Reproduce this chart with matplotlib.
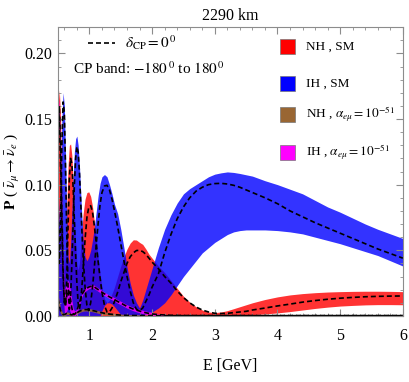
import matplotlib
matplotlib.use("Agg")
import matplotlib.pyplot as plt
from matplotlib.patches import Rectangle
from matplotlib.ticker import MultipleLocator, FormatStrFormatter

plt.rcParams["font.family"] = ["Liberation Serif", "DejaVu Serif"]
plt.rcParams["mathtext.fontset"] = "stix"

# neutrino energy grid (GeV)
energy = [0.50, 0.52, 0.54, 0.56, 0.58, 0.60, 0.62, 0.64, 0.66, 0.68, 0.70,
          0.72, 0.74, 0.76, 0.78, 0.80, 0.82, 0.84, 0.86, 0.88, 0.90,
          0.93, 0.96, 0.99, 1.02, 1.05, 1.08, 1.11, 1.14, 1.17, 1.20,
          1.24, 1.28, 1.32, 1.36, 1.40,
          1.45, 1.50, 1.55, 1.60, 1.65, 1.70, 1.75, 1.80, 1.85, 1.90, 1.95, 2.00,
          2.1, 2.2, 2.3, 2.4, 2.5, 2.6, 2.7, 2.8, 2.9, 3.0, 3.1, 3.2, 3.3, 3.4, 3.5, 3.6,
          3.8, 4.0, 4.2, 4.4, 4.6, 4.8, 5.0, 5.2, 5.4, 5.6, 5.8, 6.0]

# NH, SM band (red)
nh_sm_hi = [0.160, 0.172, 0.150, 0.100, 0.055, 0.035, 0.050, 0.085, 0.115, 0.130, 0.131,
            0.122, 0.102, 0.078, 0.055, 0.040, 0.035, 0.040, 0.052, 0.066, 0.078,
            0.089, 0.094, 0.0945, 0.091, 0.083, 0.071, 0.058, 0.044, 0.032, 0.022,
            0.013, 0.010, 0.012, 0.017, 0.022,
            0.030, 0.038, 0.045, 0.051, 0.0555, 0.058, 0.0578, 0.056, 0.0545, 0.051, 0.047, 0.044,
            0.038, 0.033, 0.027, 0.021, 0.015, 0.0105, 0.007, 0.0045, 0.003, 0.0025, 0.003, 0.004, 0.0055, 0.007, 0.0085, 0.010,
            0.0125, 0.0145, 0.016, 0.017, 0.0177, 0.0182, 0.0185, 0.0187, 0.0188, 0.0188, 0.0187, 0.0185]
nh_sm_mid = [0.150, 0.160, 0.130, 0.080, 0.035, 0.010, 0.008, 0.030, 0.070, 0.105, 0.120,
             0.116, 0.098, 0.073, 0.047, 0.025, 0.010, 0.005, 0.010, 0.022, 0.036,
             0.058, 0.075, 0.083, 0.084, 0.079, 0.068, 0.055, 0.041, 0.029, 0.018,
             0.008, 0.003, 0.003, 0.006, 0.011,
             0.018, 0.026, 0.033, 0.040, 0.045, 0.048, 0.0498, 0.050, 0.049, 0.047, 0.044, 0.041,
             0.036, 0.030, 0.025, 0.019, 0.014, 0.010, 0.0068, 0.0045, 0.003, 0.002, 0.0018, 0.002, 0.0025, 0.003, 0.0035, 0.0045,
             0.006, 0.0076, 0.009, 0.0105, 0.0117, 0.0127, 0.0135, 0.0141, 0.0146, 0.0149, 0.0151, 0.0152]
nh_sm_lo = [0.0] * 21 + [0.0] * 10 + [0.0] * 5 + [0.0] * 12 + \
           [0.0, 0.0, 0.0, 0.0, 0.0, 0.0, 0.0, 0.0, 0.0, 0.0, 0.0, 0.0, 0.0, 0.0003, 0.0005, 0.001,
            0.0015, 0.0023, 0.0033, 0.0045, 0.0057, 0.0067, 0.0075, 0.008, 0.0084, 0.0086, 0.0086, 0.0085]

# IH, SM band (blue)
ih_sm_hi = [0.100, 0.070, 0.100, 0.150, 0.170, 0.160, 0.120, 0.075, 0.045, 0.040, 0.055,
            0.080, 0.105, 0.125, 0.135, 0.137, 0.130, 0.115, 0.095, 0.075, 0.058,
            0.045, 0.042, 0.045, 0.050, 0.058, 0.068, 0.080, 0.092, 0.101, 0.106,
            0.1077, 0.106, 0.100, 0.093, 0.085,
            0.078, 0.066, 0.052, 0.037, 0.025, 0.016, 0.010, 0.006, 0.012, 0.020, 0.028, 0.036,
            0.052, 0.066, 0.077, 0.086, 0.093, 0.097, 0.100, 0.103, 0.106, 0.108, 0.109, 0.1097, 0.1093, 0.1085, 0.1075, 0.1065,
            0.103, 0.100, 0.0965, 0.093, 0.088, 0.083, 0.079, 0.0745, 0.070, 0.066, 0.0625, 0.059]
ih_sm_mid = [0.090, 0.040, 0.070, 0.130, 0.163, 0.155, 0.110, 0.060, 0.020, 0.005, 0.015,
             0.040, 0.070, 0.100, 0.120, 0.129, 0.125, 0.110, 0.088, 0.065, 0.045,
             0.022, 0.008, 0.004, 0.010, 0.022, 0.038, 0.055, 0.071, 0.085, 0.094,
             0.099, 0.0995, 0.096, 0.089, 0.080,
             0.068, 0.055, 0.042, 0.030, 0.019, 0.010, 0.005, 0.004, 0.006, 0.011, 0.016, 0.022,
             0.032, 0.048, 0.062, 0.074, 0.083, 0.090, 0.095, 0.098, 0.100, 0.1008, 0.101, 0.1005, 0.0995, 0.098, 0.096, 0.094,
             0.090, 0.0855, 0.080, 0.0755, 0.071, 0.067, 0.063, 0.059, 0.055, 0.051, 0.0475, 0.044]
ih_sm_lo = [0.0] * 21 + \
           [0.0, 0.0, 0.0, 0.0, 0.0, 0.0, 0.0, 0.0, 0.0, 0.004,
            0.008, 0.010, 0.010, 0.009, 0.007,
            0.004, 0.001, 0.0, 0.0, 0.0, 0.0, 0.0, 0.0, 0.0, 0.001, 0.002, 0.003,
            0.006, 0.010, 0.016, 0.023, 0.030, 0.036, 0.042, 0.048, 0.052, 0.056, 0.059, 0.062, 0.064, 0.065, 0.0655, 0.0655,
            0.0655, 0.065, 0.064, 0.0625, 0.060, 0.0575, 0.055, 0.052, 0.049, 0.046, 0.042, 0.038]

# NH, alpha_emu = 1e-51 band (brown)
nh_a_hi = [0.016, 0.011, 0.006, 0.0035, 0.002, 0.002, 0.0025, 0.003, 0.003, 0.0025, 0.002,
           0.0018, 0.002, 0.0025, 0.003, 0.0035, 0.004, 0.0045, 0.005, 0.0053, 0.0056,
           0.0058, 0.0058, 0.0056, 0.0054, 0.0051, 0.0048, 0.0044, 0.0040, 0.0037, 0.0034,
           0.0030, 0.0027, 0.0024, 0.0021, 0.0019,
           0.0016, 0.0014, 0.0012, 0.0011, 0.0010, 0.0009, 0.0009, 0.0008, 0.0008, 0.0008, 0.0008, 0.0008] + [0.0006] * 28
nh_a_mid = [0.013, 0.008, 0.004, 0.002, 0.001, 0.001, 0.0015, 0.002, 0.002, 0.0015, 0.001,
            0.0008, 0.001, 0.0015, 0.002, 0.0025, 0.003, 0.0035, 0.004, 0.0043, 0.0046,
            0.0048, 0.0048, 0.0046, 0.0044, 0.0041, 0.0038, 0.0034, 0.0030, 0.0027, 0.0024,
            0.0020, 0.0017, 0.0014, 0.0012, 0.0010,
            0.0008, 0.0006, 0.0005, 0.0004, 0.0004, 0.0003, 0.0003, 0.0003, 0.0003, 0.0003, 0.0003, 0.0003] + [0.0002] * 28
nh_a_lo = [0.010, 0.005, 0.002, 0.0005, 0.0, 0.0, 0.0005, 0.001, 0.001, 0.0005, 0.0,
           0.0, 0.0, 0.0005, 0.001, 0.0015, 0.002, 0.0025, 0.003, 0.0033, 0.0036,
           0.0038, 0.0038, 0.0036, 0.0034, 0.0031, 0.0028, 0.0024, 0.0020, 0.0017, 0.0014,
           0.0010, 0.0007, 0.0004, 0.0003, 0.0002] + [0.0] * 40

# IH, alpha_emu = 1e-51 band (magenta)
ih_a_hi = [0.168, 0.160, 0.128, 0.085, 0.045, 0.020, 0.022, 0.026, 0.027, 0.025, 0.019,
           0.012, 0.006, 0.004, 0.004, 0.006, 0.009, 0.0115, 0.0143, 0.0173, 0.0193,
           0.0213, 0.0223, 0.0233, 0.0238, 0.0238, 0.0233, 0.0223, 0.0213, 0.0203, 0.0193,
           0.0181, 0.0169, 0.0158, 0.0148, 0.0138,
           0.0123, 0.0111, 0.0098, 0.0085, 0.0075, 0.0065, 0.0057, 0.0050, 0.0043, 0.0037, 0.0032, 0.0028,
           0.0016, 0.0012, 0.0009, 0.0007] + [0.0006] * 24
ih_a_mid = [0.160, 0.150, 0.115, 0.070, 0.032, 0.010, 0.008, 0.016, 0.020, 0.018, 0.012,
            0.006, 0.002, 0.001, 0.002, 0.004, 0.007, 0.010, 0.013, 0.016, 0.018,
            0.020, 0.021, 0.022, 0.0225, 0.0225, 0.022, 0.021, 0.020, 0.019, 0.018,
            0.0168, 0.0156, 0.0145, 0.0135, 0.0125,
            0.011, 0.0098, 0.0085, 0.0072, 0.0062, 0.0052, 0.0044, 0.0037, 0.0030, 0.0024, 0.0019, 0.0015,
            0.0010, 0.0007, 0.0005, 0.0004] + [0.0003] * 24
ih_a_lo = [0.150, 0.138, 0.100, 0.056, 0.020, 0.003, 0.001, 0.004, 0.006, 0.005, 0.002,
           0.0, 0.0, 0.0, 0.0005, 0.002, 0.005, 0.0085, 0.0117, 0.0147, 0.0167,
           0.0187, 0.0197, 0.0207, 0.0212, 0.0212, 0.0207, 0.0197, 0.0187, 0.0177, 0.0167,
           0.0155, 0.0143, 0.0132, 0.0122, 0.0112,
           0.0097, 0.0085, 0.0072, 0.0059, 0.0049, 0.0039, 0.0031, 0.0024, 0.0017, 0.0011, 0.0006, 0.0002] + [0.0] * 28

legend_labels = ["NH , SM", "IH , SM",
                 r"NH , $\alpha_{e\mu}=10^{-51}$", r"IH , $\alpha_{e\mu}=10^{-51}$"]

fig = plt.figure(figsize=(4.09, 3.82), dpi=100)
ax = fig.add_axes([0.142, 0.173, 0.843, 0.756])

bands = [(nh_sm_lo, nh_sm_hi, nh_sm_mid, "#ff0000", 0.8),
         (ih_sm_lo, ih_sm_hi, ih_sm_mid, "#0000ff", 0.8),
         (nh_a_lo, nh_a_hi, nh_a_mid, "#996633", 0.9),
         (ih_a_lo, ih_a_hi, ih_a_mid, "#ff00ff", 0.8)]
for lo, hi, mid, col, a in bands:
    ax.fill_between(energy, lo, hi, color=col, alpha=a, lw=0)
for lo, hi, mid, col, a in bands:
    ax.plot(energy, mid, color="k", lw=1.2, dashes=(3, 1.8))

ax.set_xlim(0.5, 6)
ax.set_ylim(0, 0.22)
ax.xaxis.set_major_locator(MultipleLocator(1))
ax.xaxis.set_minor_locator(MultipleLocator(0.2))
ax.yaxis.set_major_locator(MultipleLocator(0.05))
ax.yaxis.set_minor_locator(MultipleLocator(0.01))
ax.yaxis.set_major_formatter(FormatStrFormatter("%.2f"))
frame = "#8c8c8c"
for s in ax.spines.values():
    s.set_color(frame)
    s.set_linewidth(0.8)
ax.tick_params(which="both", direction="in", top=True, right=True, color=frame,
               labelsize=11.5)
ax.tick_params(axis="x", which="major", pad=9)
ax.tick_params(axis="y", which="major", pad=4)
ax.tick_params(which="major", length=5)
ax.tick_params(which="minor", length=2.5)

ax.set_title("2290 km", fontsize=11.5, pad=5)
ax.set_xlabel("E [GeV]", fontsize=11.5, labelpad=10)
ax.set_ylabel(r"$\mathbf{P}$ ( $\bar{\nu}_{\mu}\rightarrow\bar{\nu}_{e}$ )", fontsize=11, labelpad=2)

# legend, drawn by hand
ax.plot([0.087, 0.165], [0.9446, 0.9446], transform=ax.transAxes, color="k", lw=1.2, dashes=(3, 1.8))
ax.text(0.194, 0.9446, r"$\delta_{\rm CP}=0^{\,0}$", transform=ax.transAxes, fontsize=11, va="center")
ax.text(0.0435, 0.855, r"CP band: $-180^{\,0}$ to $180^{\,0}$", transform=ax.transAxes, fontsize=11, va="center")
sq_y = [0.9325, 0.8045, 0.697, 0.5675]
sq_col = ["#ff0000", "#0000ff", "#996633", "#ff00ff"]
for yy, col, lab in zip(sq_y, sq_col, legend_labels):
    ax.add_patch(Rectangle((0.643, yy - 0.026), 0.0435, 0.052, transform=ax.transAxes,
                           facecolor=col, edgecolor="#777777", lw=0.5))
    ax.text(0.719, yy, lab, transform=ax.transAxes, fontsize=9.5, va="center")

fig.savefig("out.png", dpi=100)
